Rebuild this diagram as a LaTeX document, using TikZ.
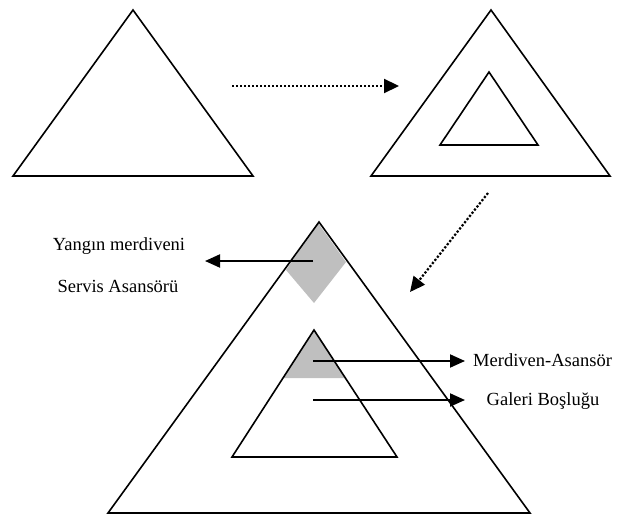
\documentclass[tikz,border=0pt]{standalone}
\usepackage{fontspec}
\setmainfont{Liberation Serif}
\usetikzlibrary{arrows.meta}
\begin{document}
\begin{tikzpicture}[x=1pt,y=-1pt,
  tri/.style={draw=black,line width=1.6pt,line join=miter},
  solidarrow/.style={draw=black,line width=2pt,-{Triangle[length=15pt,width=13pt]}},
  dotarrow/.style={draw=black,line width=2.2pt,dash pattern=on 2.2pt off 1.8pt,-{Triangle[length=15pt,width=14pt]}},
  lbl/.style={font=\fontsize{18.5}{20}\selectfont,inner sep=0pt}]
\useasboundingbox (0,0) rectangle (623,516);
% shading
\fill[gray!50] (318,223) -- (346,262) -- (314,303) -- (286,270) -- cycle;
\fill[gray!50] (314,330) -- (345,378) -- (283,378) -- cycle;
% triangles
\draw[tri] (133,10) -- (253,176) -- (13,176) -- cycle;
\draw[tri] (491,10) -- (610,176) -- (371,176) -- cycle;
\draw[tri] (489,72) -- (538,145) -- (440,145) -- cycle;
\draw[tri] (319,222) -- (530,513) -- (108,513) -- cycle;
\draw[tri] (314,330) -- (397,457) -- (232,457) -- cycle;
% coordinates
\coordinate (d1s) at (232,86);
\coordinate (d1e) at (399,86);
\coordinate (d2s) at (488,193);
\coordinate (d2e) at (410,292);
\coordinate (a1s) at (313,261);
\coordinate (a1e) at (205,261);
\coordinate (a2s) at (313,361);
\coordinate (a2e) at (465,361);
\coordinate (a3s) at (313,400);
\coordinate (a3e) at (465,400);
% arrows
\draw[dotarrow] (d1s) -- (d1e);
\draw[dotarrow] (d2s) -- (d2e);
\draw[solidarrow] (a1s) -- (a1e);
\draw[solidarrow] (a2s) -- (a2e);
\draw[solidarrow] (a3s) -- (a3e);
% labels
\node[lbl] (yang) at (119,246) {Yangın merdiveni};
\node[lbl] (serv) at (118,286) {Servis Asansörü};
\node[lbl,anchor=west] (merd) at (473,360) {Merdiven-Asansör};
\node[lbl] (gal) at (543,401) {Galeri Boşluğu};
\end{tikzpicture}
\end{document}
